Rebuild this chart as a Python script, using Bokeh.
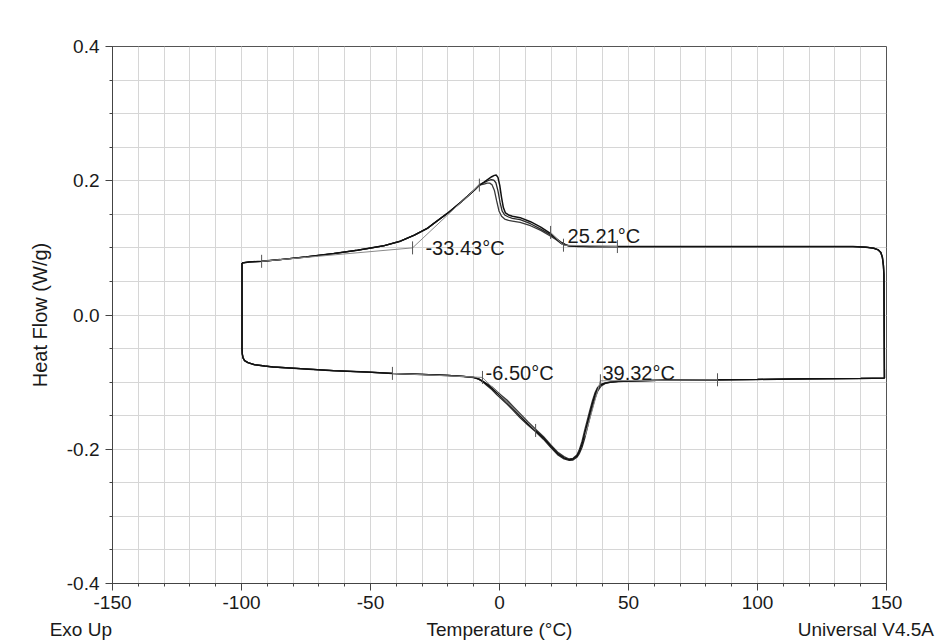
import math
from bokeh.plotting import figure
from bokeh.models import FixedTicker, PrintfTickFormatter, Label, LinearAxis
from bokeh.embed import file_html
from bokeh.resources import INLINE

# ---------------- data ----------------
x_ticks = [-150, -100, -50, 0, 50, 100, 150]
x_minor = list(range(-150, 151, 10))
y_ticks = [-0.4, -0.2, 0.0, 0.2, 0.4]
y_minor = [round(-0.4 + 0.05 * i, 2) for i in range(17)]

# heating (upper) branch, shared part before the peak
heat_left_x = [-99.8, -99.0, -97.0, -92.2, -85.0, -75.0, -64.3, -55.0, -51.2, -45.0, -38.4,
               -33.0, -28.0, -25.6, -20.0, -15.0, -12.4, -9.5, -7.8]
heat_left_y = [0.0775, 0.0780, 0.0790, 0.0800, 0.0825, 0.0865, 0.0915, 0.0965, 0.0990, 0.1030, 0.1100,
               0.1190, 0.1290, 0.1360, 0.1520, 0.1680, 0.1770, 0.1870, 0.1935]
# heating branch, three runs around the peak
heat1_x = [-6.0, -4.5, -3.0, -2.0, -1.3, -0.6, 0.1, 0.8, 1.5, 2.3, 3.5, 5.0, 8.0, 12.0, 16.0, 20.0, 22.0, 24.0, 25.5, 27.0, 30.0]
heat1_y = [0.198, 0.202, 0.206, 0.208, 0.2085, 0.205, 0.193, 0.175, 0.160, 0.152, 0.149, 0.147, 0.145, 0.139, 0.131, 0.121, 0.114, 0.108, 0.105, 0.103, 0.1025]
heat2_x = [-6.0, -4.5, -3.2, -2.2, -1.4, -0.6, 0.2, 1.0, 2.0, 3.5, 5.0, 8.0, 12.0, 16.0, 20.0, 22.0, 24.0, 25.5, 27.0, 30.0]
heat2_y = [0.197, 0.200, 0.2015, 0.201, 0.197, 0.185, 0.168, 0.155, 0.149, 0.146, 0.144, 0.142, 0.136, 0.128, 0.119, 0.113, 0.107, 0.104, 0.103, 0.1025]
heat3_x = [-6.0, -4.8, -3.8, -2.9, -2.0, -1.1, -0.2, 0.8, 2.0, 3.5, 5.0, 8.0, 12.0, 16.0, 20.0, 22.0, 24.0, 25.5, 27.0, 30.0]
heat3_y = [0.195, 0.1965, 0.1965, 0.194, 0.186, 0.170, 0.155, 0.147, 0.143, 0.141, 0.140, 0.138, 0.133, 0.126, 0.117, 0.112, 0.106, 0.104, 0.103, 0.102]
# heating branch, shared part after the peak (up to the turn at 150 °C)
heat_right_x = [35.0, 45.7, 60.0, 80.0, 100.0, 120.0, 137.0, 142.0, 145.0, 146.8, 147.8, 148.4, 148.8, 149.0]
heat_right_y = [0.1020, 0.1020, 0.1020, 0.1020, 0.1020, 0.1020, 0.1020, 0.1010, 0.0995, 0.0970, 0.0930, 0.0860, 0.0740, 0.0600]

# cooling (lower) branch, shared part before the dip
cool_left_x = [-99.8, -99.7, -99.4, -98.8, -97.5, -95.0, -91.0, -87.6, -77.0, -64.3, -51.2, -41.5,
               -30.0, -20.0, -14.0, -10.0]
cool_left_y = [-0.050, -0.058, -0.064, -0.068, -0.071, -0.074, -0.076, -0.0775, -0.080, -0.083, -0.085, -0.087,
               -0.0885, -0.090, -0.0915, -0.093]
cool_x = [-8.0, -6.5, -5.0, -3.0, -1.0, 1.0, 3.0, 5.0, 8.0, 11.0, 14.0, 17.0, 20.0, 22.5, 25.0, 27.0, 28.5,
          30.0, 31.0, 32.0, 33.0, 34.0, 35.0, 36.0, 37.0, 38.0, 39.3, 41.0, 43.0, 46.0, 50.0]
cool1_y = [-0.0955, -0.099, -0.103, -0.109, -0.116, -0.123, -0.130, -0.138, -0.150, -0.162, -0.172, -0.183, -0.196,
           -0.206, -0.213, -0.2155, -0.2145, -0.210, -0.203, -0.192, -0.177, -0.162, -0.147, -0.132, -0.119, -0.110,
           -0.104, -0.1015, -0.100, -0.099, -0.0985]
cool2_y = [-0.0955, -0.0995, -0.1045, -0.111, -0.119, -0.126, -0.133, -0.141, -0.153, -0.164, -0.174, -0.185, -0.198,
           -0.208, -0.2145, -0.2165, -0.216, -0.212, -0.206, -0.197, -0.184, -0.169, -0.153, -0.138, -0.124, -0.114,
           -0.106, -0.102, -0.1005, -0.099, -0.0985]
cool3_y = [-0.0955, -0.0985, -0.102, -0.107, -0.114, -0.1205, -0.127, -0.135, -0.147, -0.159, -0.170, -0.181, -0.194,
           -0.204, -0.211, -0.2145, -0.2135, -0.2085, -0.200, -0.188, -0.172, -0.157, -0.142, -0.128, -0.116, -0.108,
           -0.1035, -0.101, -0.0998, -0.099, -0.0985]
cool_right_x = [53.5, 65.0, 84.5, 100.0, 120.0, 140.0, 149.2]
cool_right_y = [-0.098, -0.097, -0.0965, -0.096, -0.095, -0.0945, -0.094]

# analysis construction lines (onset tangents / baselines)
onset_lines = [
    ([-92.2, -33.7, -7.8], [0.080, 0.100, 0.1935]),
    ([19.8, 24.8, 45.7], [0.123, 0.104, 0.102]),
    ([-41.5, -6.6, 14.0], [-0.087, -0.093, -0.172]),
    ([33.2, 39.1, 84.5], [-0.180, -0.098, -0.0965]),
]
mark_x = [-92.2, -33.7, -7.8, 19.8, 24.8, 45.7, -41.5, -6.6, 14.0, 39.1, 84.5]
mark_y = [0.080, 0.100, 0.1935, 0.123, 0.104, 0.102, -0.087, -0.093, -0.172, -0.098, -0.0965]

onset_labels = ["-33.43°C", "25.21°C", "-6.50°C", "39.32°C"]
onset_label_x = [-28.7, 26.4, -5.4, 39.9]
onset_label_y = [0.100, 0.118, -0.0857, -0.0857]

# footer texts and the temperature positions they sit at
footer_x = [-150, 0, 142]
footer_texts = ["Exo Up", "Temperature (°C)", "Universal V4.5A"]

# ---------------- figure ----------------
FONT = "Liberation Sans"
p = figure(width=939, height=644, x_range=(-150, 150), y_range=(-0.4, 0.4),
           output_backend="svg", toolbar_location=None,
           min_border_left=112, min_border_right=53, min_border_top=46, min_border_bottom=61)
p.background_fill_color = "white"
p.border_fill_color = "white"
p.outline_line_color = "#555555"
p.outline_line_width = 1

p.xaxis.ticker = FixedTicker(ticks=x_ticks, minor_ticks=x_minor)
p.yaxis.ticker = FixedTicker(ticks=y_ticks, minor_ticks=y_minor)
p.yaxis.formatter = PrintfTickFormatter(format="%.1f")
p.xaxis.formatter = PrintfTickFormatter(format="%d")

for ax in (p.xaxis, p.yaxis):
    ax.axis_line_color = "#444444"
    ax.major_tick_line_color = "#444444"
    ax.minor_tick_line_color = "#444444"
    ax.major_tick_out = 7
    ax.major_tick_in = 0
    ax.minor_tick_out = 3
    ax.minor_tick_in = 0
    ax.major_label_text_font = FONT
    ax.major_label_text_font_size = "19px"
    ax.major_label_text_color = "#1a1a1a"
p.xaxis.major_label_standoff = 5
p.yaxis.major_label_standoff = 6
p.yaxis.axis_label = "Heat Flow (W/g)"
p.yaxis.axis_label_text_font = FONT
p.yaxis.axis_label_text_font_size = "20px"
p.yaxis.axis_label_text_font_style = "normal"
p.yaxis.axis_label_text_color = "#1a1a1a"
p.yaxis.axis_label_standoff = 13

for g in (p.xgrid, p.ygrid):
    g.grid_line_color = "#d6d6d6"
    g.minor_grid_line_color = "#d6d6d6"
    g.grid_line_width = 1
    g.minor_grid_line_width = 1

# build closed loops for the three runs
def loop(hx, hy, cy):
    tx = heat_left_x + hx + heat_right_x
    ty = heat_left_y + hy + heat_right_y
    bx = cool_left_x + cool_x + cool_right_x
    by = cool_left_y + cy + cool_right_y
    return tx + bx[::-1] + [tx[0]], ty + by[::-1] + [ty[0]]

runs = [
    (heat3_x, heat3_y, cool3_y, "#3a3a3a", 1.3),
    (heat2_x, heat2_y, cool2_y, "#2a2a2a", 1.3),
    (heat1_x, heat1_y, cool1_y, "#111111", 1.5),
]
for hx, hy, cy, col, lw in runs:
    lx, ly = loop(hx, hy, cy)
    p.line(lx, ly, line_color=col, line_width=lw)

for xs, ys in onset_lines:
    p.line(xs, ys, line_color="#8a8a8a", line_width=1)

p.scatter(mark_x, mark_y, marker="dash", size=13, angle=math.pi / 2,
          line_color="#555555", line_width=1)

for t, lx, ly in zip(onset_labels, onset_label_x, onset_label_y):
    p.add_layout(Label(x=lx, y=ly, text=t, text_font=FONT, text_font_size="20px",
                       text_color="#1a1a1a", text_baseline="alphabetic"))

# footer row: an unlined axis below the temperature axis carrying the three footer texts
pad = "\u00a0" * 12  # keeps "Exo Up" flush left of the frame edge, as in the original
overrides = {footer_x[0]: footer_texts[0] + pad,
             footer_x[1]: footer_texts[1],
             footer_x[2]: footer_texts[2]}
foot = LinearAxis(ticker=FixedTicker(ticks=footer_x, minor_ticks=[]),
                  major_label_overrides=overrides)
foot.axis_line_color = None
foot.major_tick_line_color = None
foot.minor_tick_line_color = None
foot.major_tick_out = 0
foot.major_tick_in = 0
foot.minor_tick_out = 0
foot.minor_tick_in = 0
foot.major_label_standoff = 7
foot.major_label_text_font = FONT
foot.major_label_text_font_size = "19px"
foot.major_label_text_color = "#1a1a1a"
p.add_layout(foot, "below")

open("out.html", "w").write(file_html(p, INLINE))
